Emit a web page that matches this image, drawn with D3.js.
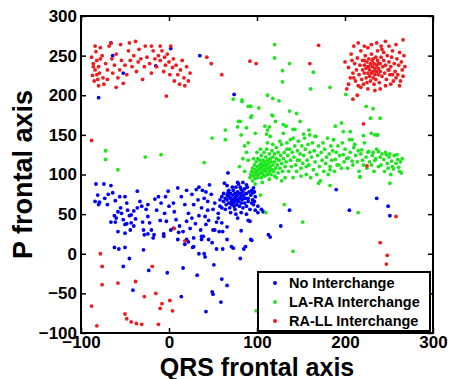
<!DOCTYPE html>
<html>
<head>
<meta charset="utf-8">
<script src="https://cdn.jsdelivr.net/npm/d3@7"></script>
<style>
  html, body { margin: 0; padding: 0; background: #fff; }
  svg text { font-family: "Liberation Sans", Arial, sans-serif; font-weight: bold; fill: #000; }
</style>
</head>
<body>
<svg id="chart" width="450" height="379"></svg>
<script>
// tick values and labels
const xTicks = [-100, 0, 100, 200, 300]
const yTicks = [-100, -50, 0, 50, 100, 150, 200, 250, 300]
const seriesNames = ['No Interchange', 'LA-RA Interchange', 'RA-LL Interchange']
const seriesColors = ['#0000f0', '#1ee61e', '#ee1c1c']

// No Interchange  [QRS, P]
const noInterchange = [
  [-83,88],[-74,88],[-66,86],[-81,74],[-79,65],[-73,70],[-69,75],[-64,77],[-61,67],[-56,72],[-50,72],[-48,64],
  [-58,53],[-54,51],[-60,45],[-52,43],[-47,55],[-43,49],[-50,26],[-43,39],[-84,66],[-80,62],[-70,62],[-66,40],
  [-62,48],[-55,58],[-45,48],[-40,54],[-44,30],[-38,44],[-48,38],[-58,28],[-36,58],[-40,35],
  [-36,79],[-33,66],[-31,60],[-26,56],[-24,47],[-28,24],[-18,20],[-22,39],[-16,69],[-12,72],[-9,64],[-5,51],
  [-3,41],[-1,79],[5,64],[6,53],[8,43],[10,83],[14,72],[18,62],[22,51],[20,41],[24,32],[16,28],[31,81],[33,68],
  [37,58],[41,47],[42,37],[39,22],[46,87],[48,75],[52,64],[56,51],[60,39],[61,28],[-20,30],[-10,42],[-14,55],
  [0,60],[2,30],[12,35],[26,45],[28,62],[30,38],[34,48],[36,30],[44,55],[45,42],[50,30],[54,40],[58,60],[26,75],
  [20,80],[-30,40],[-6,25],[10,18],[40,70],[44,66],[50,56],[56,45],[-24,62],[-4,72],[28,20],[34,84],[38,80],[42,78],
  [63,89],[67,77],[71,66],[75,56],[78,45],[82,81],[86,70],[88,87],[94,64],[101,60],[107,53],
  [58,68],[60,72],[62,66],[62,76],[64,70],[65,62],[66,74],[66,68],[68,64],[68,72],[68,80],[69,58],[70,70],[70,76],
  [71,62],[72,68],[72,74],[73,64],[73,80],[74,70],[74,60],[75,66],[75,76],[76,72],[76,84],[77,62],[77,68],[78,74],
  [78,78],[79,66],[79,88],[80,70],[80,60],[81,76],[81,84],[82,64],[82,72],[83,68],[84,78],[84,58],[85,74],[86,64],
  [86,82],[87,70],[88,76],[88,60],[89,84],[90,70],[90,66],[91,78],[92,56],[93,74],[94,80],[95,68],[96,62],[98,72],
  [60,58],[64,56],[70,52],[76,50],[82,52],[88,50],[72,84],[66,86],[78,90],[84,90],
  [96,83],[95,77],[97,66],[98,55],[101,52],[105,56],[92,41],[94,17],[113,24],[115,21],[127,35],[137,55],
  [190,81],[205,55],[236,70],[249,60],[251,48],[97,78],[67,102],[74,201],
  [-80,197],[-66,266],[-64,250],[-52,228],[-15,237],[2,259],[35,250],
  [-62,8],[-57,6],[-50,8],[-29,5],[-45,-6],[-52,-16],[-23,-21],[-41,-46],[-2,-24],[16,-18],[32,-27],[14,-54],
  [42,-73],[27,8],[34,0],[40,0],[41,-4],[49,14],[54,6],[61,6],[71,9],[85,6],[87,9],[81,-6],[51,-14],[60,-32],
  [66,-40],[49,-48],[50,-51],[59,-61],[18,12],[22,15],[37,18],[66,18],[93,18],
  [-61,40],[-50,37],[-29,30],[-24,25],[-17,24],[-6,22],[5,32],[11,27],[20,18],[28,9],[37,22],[45,18],[52,30],
  [57,28],[66,34],[73,7],[82,29],[90,42]
]

// LA-RA Interchange
const laRaInterchange = [
  [92,96],[93,100],[94,104],[95,92],[95,108],[96,98],[97,102],[97,112],[98,95],[98,106],[99,100],[99,116],
  [100,104],[100,110],[101,96],[101,120],[102,106],[102,100],[103,112],[103,118],[104,102],[104,108],[105,96],
  [105,114],[105,124],[106,104],[106,110],[107,118],[107,100],[108,106],[108,112],[108,128],[109,98],[109,116],
  [110,108],[110,104],[110,122],[111,112],[111,132],[112,100],[112,118],[113,108],[113,114],[114,104],[114,126],
  [115,110],[115,120],[116,100],[116,116],[117,106],[117,130],[118,112],[118,122],[119,104],[120,116],[120,126],
  [121,108],[122,134],[122,120],[123,112],[124,102],[124,128],[125,118],[126,108],[127,124],[128,114],[128,138],
  [129,104],[130,120],[131,128],[132,110],[133,116],[134,140],[135,124],[136,104],[137,132],[138,118],[139,110],
  [140,128],[141,146],[142,122],[143,136],[144,112],[145,104],[146,130],[147,142],[148,118],[149,126],[150,108],
  [151,136],[152,114],[153,124],[154,146],[155,132],[156,100],[157,118],[158,138],[159,112],[160,128],[161,96],
  [162,122],[163,140],[164,106],[165,130],[166,116],[167,148],[168,100],[169,124],[170,136],[171,110],[172,92],
  [173,128],[174,118],[175,140],[176,104],[177,132],[178,114],[179,122],[180,146],[181,100],[182,126],[183,110],
  [184,136],[185,118],[186,130],[187,144],[188,104],[189,119],[190,128],[191,112],[192,136],[193,112],[194,124],
  [196,108],[197,140],[198,125],[199,116],[200,132],[202,120],[203,108],[204,121],[205,144],[206,128],[208,117],
  [209,112],[210,134],[211,138],[212,124],[214,116],[215,130],[216,104],[217,97],[218,126],[219,131],[220,118],
  [221,112],[222,140],[224,122],[225,108],[226,128],[227,129],[228,116],[230,112],[230,152],[231,124],[232,128],
  [233,104],[234,118],[235,120],[236,132],[237,150],[238,110],[238,129],[240,122],[241,112],[242,126],[244,119],
  [245,104],[246,128],[247,125],[248,114],[249,108],[250,122],[251,126],[252,100],[253,117],[254,110],[255,107],
  [256,124],[258,114],[259,125],[260,119],[261,109],[262,104],[263,116],[264,102],[265,120],[251,89],
  [120,264],[120,247],[137,240],[129,231],[164,229],[129,217],[161,208],[183,210],[112,200],[118,196],[125,193],
  [201,201],[137,180],[145,177],[149,167],[224,186],[232,183],[240,171],[229,171],[93,186],[93,172],[118,174],
  [130,163],[133,161],[114,160],[112,156],[141,157],[189,161],[196,165],[198,154],[206,154],[234,150],[237,150],
  [221,149],[159,156],[83,192],[92,186],[102,184],[117,175],[79,167],[88,159],[109,161],[121,167],[98,152],
  [111,151],[115,148],[130,152],[143,157],[153,151],[160,150],[166,148],[187,144],[208,144],[211,138],
  [49,146],[40,115],[64,156],[64,144],[81,167],[73,195],[83,194],[90,186],[94,174],
  [-72,130],[-72,119],[-58,106],[-27,122],[-9,125],[110,52],[131,62],[141,3],[152,40],[99,-72],[215,52],
  [104,74],[122,96],[141,96],[170,89],[183,86],[217,97],[183,106],
  [78,160],[82,150],[86,136],[88,128],[84,120],[90,140],[80,110],[86,104],[90,118],
  [100,128],[96,120],[104,132],[112,140],[118,138],[126,142],[106,90],[114,94],[120,98],[98,88],
  [132,96],[138,144],[150,98],[146,118],[134,132],[156,110],[128,92]
]

// RA-LL Interchange
const raLlInterchange = [
  [-88,248],[-86,240],[-84,232],[-87,225],[-85,218],[-82,244],[-80,236],[-79,228],[-83,255],[-78,260],[-76,250],
  [-75,222],[-74,214],[-72,240],[-70,232],[-68,262],[-66,266],[-65,246],[-64,228],[-62,238],[-60,252],[-58,222],
  [-56,232],[-55,264],[-54,244],[-52,215],[-50,238],[-48,226],[-46,256],[-45,266],[-44,244],[-42,236],[-40,250],
  [-38,268],[-37,230],[-35,242],[-34,258],[-32,246],[-30,220],[-28,236],[-27,262],[-25,248],[-22,240],[-20,228],
  [-18,256],[-16,246],[-14,236],[-12,250],[-10,244],[-8,256],[-6,230],[-5,248],[-4,238],[-2,252],[0,242],[1,226],
  [2,262],[4,235],[5,246],[6,218],[8,238],[10,226],[12,214],[13,232],[15,244],[17,222],[18,212],[20,236],[22,218],
  [24,228],[-60,210],[-80,212],[-70,220],[-20,262],[-10,262],[-86,236],[-82,226],[-78,246],[-84,262],[-81,220],
  [-3,199],[-88,143],
  [43,248],[48,240],[60,226],[92,243],[99,240],[160,240],[170,263],
  [200,242],[202,208],[204,235],[206,222],[207,252],[209,228],[210,262],[211,240],[212,218],[213,232],[214,247],
  [215,212],[216,226],[217,238],[218,256],[219,220],[220,232],[220,244],[221,214],[222,228],[222,238],[223,250],
  [224,222],[224,234],[225,242],[225,216],[226,228],[226,260],[227,236],[227,246],[228,224],[228,232],[229,240],
  [229,218],[230,228],[230,252],[231,236],[231,244],[232,222],[232,230],[233,214],[233,240],[234,226],[234,234],
  [235,248],[235,220],[236,238],[236,230],[237,256],[237,244],[238,226],[238,234],[239,216],[240,240],[240,230],
  [241,262],[241,248],[242,224],[243,236],[244,244],[244,254],[245,228],[246,268],[246,238],[247,220],[248,250],
  [249,232],[250,242],[250,262],[251,226],[252,236],[253,248],[254,256],[255,218],[256,240],[257,230],[258,264],
  [259,246],[260,226],[261,238],[262,254],[263,218],[264,242],[265,232],[266,270],[267,250],[268,236],[266,224],
  [262,212],[258,222],[252,214],[246,212],[240,208],[234,206],[226,208],[218,210],[214,200],[210,222],[208,244],
  [204,214],[215,266],[222,262],[230,264],[236,266],[242,258],[250,232],[254,226],[222,244],[226,236],[232,246],
  [238,240],
  [209,195],[221,164],[225,111],[258,47],[240,14],[248,-2],[247,-13],
  [-78,0],[-76,-16],[-76,-39],[-88,-66],[-82,-91],[-58,-37],[-38,-35],[-19,-16],[-28,-54],[-15,-50],[-8,-63],
  [-10,-69],[1,-59],[4,-72],[-50,-76],[-48,-82],[-43,-86],[-37,-88],[-31,-89],[-12,-89],[6,32],[18,16]
]

const allSeries = [noInterchange, laRaInterchange, raLlInterchange]

const svg = d3.select('#chart')
const plot = { left: 81, right: 433, top: 16, bottom: 333 }

const x = d3.scaleLinear().domain([-100, 300]).range([plot.left, plot.right])
const y = d3.scaleLinear().domain([-100, 300]).range([plot.bottom, plot.top])

// points
allSeries.forEach((pts, i) => {
    svg.append('g')
        .selectAll('circle')
        .data(pts).enter().append('circle')
        .attr('cx', d => x(d[0]))
        .attr('cy', d => y(d[1]))
        .attr('r', 1.9)
        .attr('fill', seriesColors[i])
})

// axes, ticks pointing inward
const xAxis = svg.append('g')
    .attr('transform', `translate(0,${plot.bottom})`)
    .call(d3.axisBottom(x).tickValues(xTicks).tickSize(-5).tickPadding(3).tickFormat(d3.format('d')))
xAxis.selectAll('text').style('font-size', '17px').attr('dy', '0.71em')

const yAxis = svg.append('g')
    .attr('transform', `translate(${plot.left},0)`)
    .call(d3.axisLeft(y).tickValues(yTicks).tickSize(-5).tickPadding(4).tickFormat(d3.format('d')))
yAxis.selectAll('text').style('font-size', '17px')

svg.append('g')
    .attr('transform', `translate(0,${plot.top})`)
    .call(d3.axisTop(x).tickValues(xTicks).tickSize(-5).tickFormat(''))
svg.append('g')
    .attr('transform', `translate(${plot.right},0)`)
    .call(d3.axisRight(y).tickValues(yTicks).tickSize(-5).tickFormat(''))

svg.selectAll('.domain').remove()
svg.selectAll('.tick line').attr('stroke', '#000').attr('stroke-width', 1.5)

svg.append('rect')
    .attr('x', plot.left).attr('y', plot.top)
    .attr('width', plot.right - plot.left).attr('height', plot.bottom - plot.top)
    .attr('fill', 'none').attr('stroke', '#000').attr('stroke-width', 2)

// axis titles
svg.append('text')
    .attr('x', (plot.left + plot.right) / 2).attr('y', 376)
    .attr('text-anchor', 'middle')
    .style('font-size', '25px')
    .text('QRS frontal axis')

svg.append('text')
    .attr('transform', `translate(32,${(plot.top + plot.bottom) / 2}) rotate(-90)`)
    .attr('text-anchor', 'middle')
    .style('font-size', '27px')
    .text('P frontal axis')

// legend
const legend = svg.append('g')
legend.append('rect')
    .attr('x', 258).attr('y', 272).attr('width', 172).attr('height', 59)
    .attr('fill', '#fff').attr('stroke', '#000').attr('stroke-width', 2)

seriesNames.forEach((name, i) => {
    const cy = 283 + i * 19
    legend.append('circle').attr('cx', 275).attr('cy', cy).attr('r', 2).attr('fill', seriesColors[i])
    legend.append('text')
        .attr('x', 289).attr('y', cy).attr('dy', '0.36em')
        .style('font-size', '14.5px')
        .text(name)
})
</script>
</body>
</html>
